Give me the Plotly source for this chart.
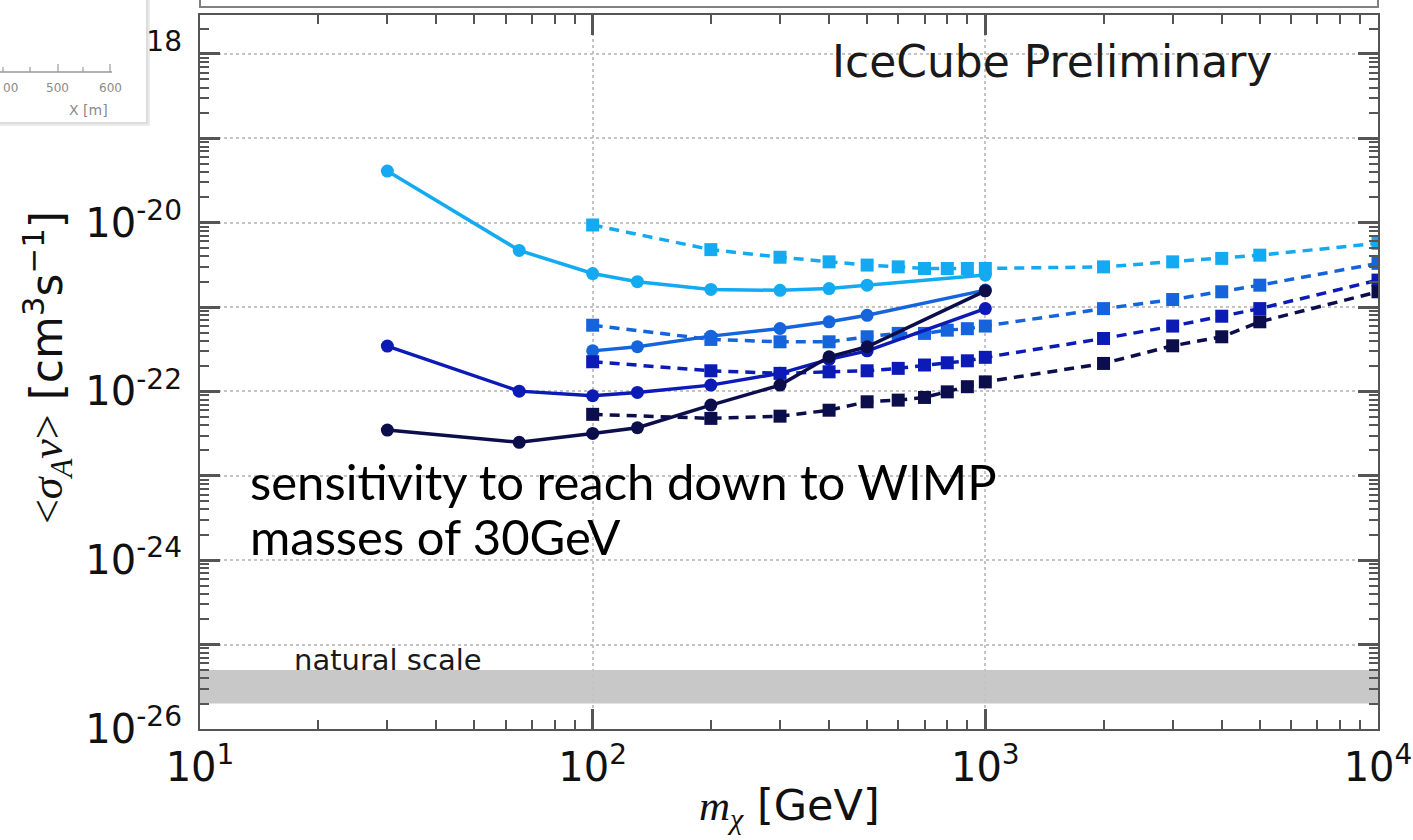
import plotly.graph_objects as go

# ---------------- data ----------------
mass_line = [30, 65, 100, 130, 200, 300, 400, 500, 1000]
mass_line_med = [100, 130, 200, 300, 400, 500, 1000]
mass_box = [100, 200, 300, 400, 500, 600, 700, 800, 900, 1000, 2000, 3000, 4000, 5000, 10000]

light_solid = [4.1e-20, 4.7e-21, 2.5e-21, 2.0e-21, 1.62e-21, 1.58e-21, 1.66e-21, 1.82e-21, 2.4e-21]
light_dash = [9.4e-21, 4.8e-21, 3.9e-21, 3.44e-21, 3.15e-21, 3.0e-21, 2.87e-21, 2.87e-21, 2.87e-21,
              2.87e-21, 3.0e-21, 3.44e-21, 3.78e-21, 4.13e-21, 5.7e-21]
med_solid = [3.03e-22, 3.39e-22, 4.53e-22, 5.58e-22, 6.7e-22, 8.0e-22, 1.59e-21]
med_dash = [6.1e-22, 4.14e-22, 3.88e-22, 3.88e-22, 4.45e-22, 4.88e-22, 4.88e-22, 5.33e-22, 5.55e-22,
            5.96e-22, 9.6e-22, 1.23e-21, 1.52e-21, 1.82e-21, 3.3e-21]
blue_solid = [3.45e-22, 1.01e-22, 8.9e-23, 9.75e-23, 1.19e-22, 1.64e-22, 2.4e-22, 3.03e-22, 9.6e-22]
blue_dash = [2.25e-22, 1.76e-22, 1.64e-22, 1.71e-22, 1.76e-22, 1.88e-22, 2.06e-22, 2.19e-22, 2.31e-22,
             2.54e-22, 4.25e-22, 5.96e-22, 7.8e-22, 9.6e-22, 2.09e-21]
navy_solid = [3.49e-23, 2.5e-23, 3.18e-23, 3.72e-23, 6.9e-23, 1.19e-22, 2.58e-22, 3.39e-22, 1.56e-21]
navy_dash = [5.36e-23, 4.8e-23, 5.1e-23, 6.0e-23, 7.55e-23, 7.9e-23, 8.5e-23, 9.9e-23, 1.14e-22,
             1.30e-22, 2.15e-22, 3.48e-22, 4.45e-22, 6.7e-22, 1.52e-21]

natural_scale = [2e-26, 5e-26]

x_tickvals = [10, 100, 1000, 10000]
x_ticktext = ["10<sup>1</sup>", "10<sup>2</sup>", "10<sup>3</sup>", "10<sup>4</sup>"]
y_exponents = list(range(-26, -17))
y_tickvals = [10.0 ** e for e in y_exponents]
y_ticktext = [("10<sup>%d</sup>" % e) if e % 2 == 0 else "" for e in y_exponents]

# ---------------- style ----------------
C_LIGHT = "#14aaf2"
C_MED = "#1664dc"
C_BLUE = "#0c1ab6"
C_NAVY = "#0c0e4c"

fig = go.Figure()

def add_pair(xs, ys, xd, yd, color):
    fig.add_trace(go.Scatter(x=xd, y=yd, mode="lines+markers",
                             line=dict(color=color, width=3.5, dash="10px,7px"),
                             marker=dict(symbol="square", size=13, color=color),
                             showlegend=False))
    fig.add_trace(go.Scatter(x=xs, y=ys, mode="lines+markers",
                             line=dict(color=color, width=3.5),
                             marker=dict(symbol="circle", size=13, color=color),
                             showlegend=False))

add_pair(mass_line, light_solid, mass_box, light_dash, C_LIGHT)
add_pair(mass_line_med, med_solid, mass_box, med_dash, C_MED)
add_pair(mass_line, blue_solid, mass_box, blue_dash, C_BLUE)
add_pair(mass_line, navy_solid, mass_box, navy_dash, C_NAVY)

x_minor = [k * 10 ** d for d in (1, 2, 3) for k in range(2, 10)]
y_minor = [k * 10.0 ** d for d in range(-26, -17) for k in range(2, 10)]

axis_common = dict(
    showline=True, linecolor="#555555", linewidth=2, mirror="allticks",
    ticks="inside", ticklen=20, tickwidth=2.5, tickcolor="#555555",
    showgrid=True, gridcolor="#c4c4c4", gridwidth=2, griddash="dot",
    zeroline=False,
    tickfont=dict(family="DejaVu Sans", size=40, color="#111111"),
)

fig.update_xaxes(type="log", range=[1, 4], tickmode="array",
                 tickvals=x_tickvals, ticktext=x_ticktext,
                 minor=dict(tickmode="array", tickvals=x_minor, ticks="inside",
                            ticklen=9, tickwidth=2, tickcolor="#555555", showgrid=False),
                 ticklabelstandoff=2,
                 **axis_common)
fig.update_yaxes(type="log", range=[-26, -17.538], tickmode="array",
                 tickvals=y_tickvals, ticktext=y_ticktext,
                 minor=dict(tickmode="array", tickvals=y_minor, ticks="inside",
                            ticklen=9, tickwidth=2, tickcolor="#555555", showgrid=False),
                 ticklabelstandoff=8,
                 **axis_common)

W, H = 1413, 840
L, R, T, B = 200, 35, 15, 111
pw, ph = W - L - R, H - T - B

def px(x):
    return (x - L) / pw

def py(y):
    return (H - B - y) / ph

shapes = []
# natural scale band
shapes.append(dict(type="rect", xref="paper", yref="y", x0=0, x1=1,
                   y0=natural_scale[0], y1=natural_scale[1],
                   fillcolor="#c8c8c8", line=dict(width=0), layer="below"))
# top panel box (partially visible)
shapes.append(dict(type="rect", xref="paper", yref="paper", x0=0, x1=1,
                   y0=py(7), y1=py(-30), fillcolor="white",
                   line=dict(color="#808080", width=2), layer="above"))
# inset image remnant (top-left)
shapes.append(dict(type="rect", xref="paper", yref="paper", x0=px(-10), x1=px(150),
                   y0=py(126), y1=py(-10), fillcolor="rgba(0,0,0,0.08)",
                   line=dict(width=0), layer="above"))
shapes.append(dict(type="rect", xref="paper", yref="paper", x0=px(-10), x1=px(148),
                   y0=py(124), y1=py(-10), fillcolor="rgba(0,0,0,0.06)",
                   line=dict(width=0), layer="above"))
shapes.append(dict(type="rect", xref="paper", yref="paper", x0=px(-10), x1=px(146),
                   y0=py(122), y1=py(-10), fillcolor="white",
                   line=dict(width=0), layer="above"))
shapes.append(dict(type="line", xref="paper", yref="paper", x0=px(0), x1=px(112),
                   y0=py(72), y1=py(72), line=dict(color="#999999", width=1.5), layer="above"))
for tx, tl in [(3, 5), (30, 5), (58, 8), (83, 5), (110, 8)]:
    shapes.append(dict(type="line", xref="paper", yref="paper", x0=px(tx), x1=px(tx),
                       y0=py(72), y1=py(72 - tl), line=dict(color="#999999", width=1.2),
                       layer="above"))

annotations = [
    dict(text="IceCube Preliminary", xref="paper", yref="paper", x=px(1052), y=py(62),
         xanchor="center", yanchor="middle", showarrow=False,
         font=dict(family="DejaVu Sans", size=44, color="#1a1a1a")),
    dict(text="natural scale", xref="paper", yref="paper", x=px(388), y=py(660),
         xanchor="center", yanchor="middle", showarrow=False,
         font=dict(family="DejaVu Sans", size=29, color="#1a1a1a")),
    dict(text="sensitivity to reach down to WIMP", xref="paper", yref="paper",
         x=px(248), y=py(481), xanchor="left", yanchor="middle", showarrow=False,
         font=dict(family="Lato", size=49, color="black")),
    dict(text="masses of 30GeV", xref="paper", yref="paper",
         x=px(248), y=py(536), xanchor="left", yanchor="middle", showarrow=False,
         font=dict(family="Lato", size=49, color="black")),
    dict(text=("<span style='font-family:Liberation Serif'>&lt;<i>σ</i><sub><i>A</i></sub><i>v</i>&gt;</span>"
               " [cm<sup>3</sup>s<sup>−1</sup>]"),
         xref="paper", yref="paper", x=px(47), y=py(368), textangle=-90,
         xanchor="center", yanchor="middle", showarrow=False,
         font=dict(family="DejaVu Sans", size=44, color="#111111")),
    dict(text="<span style='font-family:Liberation Serif'><i>m</i><sub><i>χ</i></sub></span> [GeV]",
         xref="paper", yref="paper", x=px(789), y=py(808),
         xanchor="center", yanchor="middle", showarrow=False,
         font=dict(family="DejaVu Sans", size=43, color="#111111")),
    # inset remnant labels
    dict(text="00", xref="paper", yref="paper", x=px(10), y=py(88), showarrow=False,
         xanchor="center", yanchor="middle", font=dict(family="DejaVu Sans", size=12, color="#8a8a8a")),
    dict(text="500", xref="paper", yref="paper", x=px(57), y=py(88), showarrow=False,
         xanchor="center", yanchor="middle", font=dict(family="DejaVu Sans", size=12, color="#8a8a8a")),
    dict(text="600", xref="paper", yref="paper", x=px(110), y=py(88), showarrow=False,
         xanchor="center", yanchor="middle", font=dict(family="DejaVu Sans", size=12, color="#8a8a8a")),
    dict(text="X [m]", xref="paper", yref="paper", x=px(88), y=py(110), showarrow=False,
         xanchor="center", yanchor="middle", font=dict(family="DejaVu Sans", size=14, color="#8a8a8a")),
]

fig.update_layout(
    width=W, height=H,
    margin=dict(l=L, r=R, t=T, b=B, autoexpand=False),
    plot_bgcolor="white", paper_bgcolor="white",
    shapes=shapes, annotations=annotations,
    showlegend=False,
)

fig.write_html("out.html")
